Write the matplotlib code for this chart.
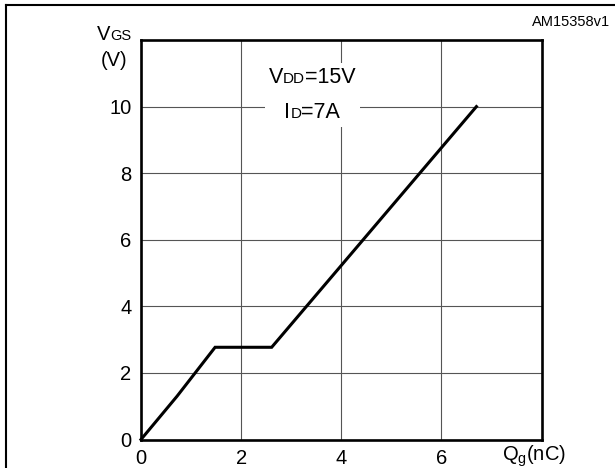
import matplotlib
matplotlib.use("Agg")
import matplotlib.pyplot as plt
from matplotlib.lines import Line2D
from matplotlib.offsetbox import TextArea, HPacker, VPacker, AnnotationBbox

FONT = "Liberation Sans"
plt.rcParams['font.family'] = [FONT, 'DejaVu Sans']

# gate charge curve
qg = [0, 0.72, 1.48, 2.61, 6.7]
vgs = [0, 1.3, 2.77, 2.77, 10.0]

x_ticks = [0, 2, 4, 6]
y_ticks = [0, 2, 4, 6, 8, 10]


def small_caps(parts):
    # big letter + smaller letters sitting on the same baseline
    kids = [TextArea(t, textprops=dict(fontsize=s, family=FONT, color='black')) for t, s in parts]
    return HPacker(children=kids, align='baseline', pad=0, sep=0)


fig = plt.figure(figsize=(6.15, 4.68), dpi=100)
ax = fig.add_axes([141 / 615, 1 - 439.5 / 468, (541.5 - 141) / 615, (439.5 - 40) / 468])

ax.plot(qg, vgs, color='black', lw=2.2, zorder=4, clip_on=False, solid_joinstyle='miter')

ax.set_xlim(0, 8)
ax.set_ylim(0, 12)
ax.set_xticks(x_ticks)
ax.set_yticks(y_ticks)
ax.tick_params(length=0, labelsize=14.5)
ax.tick_params(axis='x', pad=7)
ax.tick_params(axis='y', pad=7)
ax.grid(True, color='#555555', lw=0.8)
ax.set_axisbelow(True)
for s in ax.spines.values():
    s.set_linewidth(1.9)

# axis labels
vlab = small_caps([("V", 14.5), ("GS", 10.5)])
fig.add_artist(AnnotationBbox(vlab, (114, 468 - 34), xycoords='figure pixels',
                              frameon=False, box_alignment=(0.5, 0.5), pad=0))
fig.text(114 / 615, 1 - 60 / 468, "(V)", fontsize=14.5, ha='center', va='center')
fig.text(533.7 / 615, 1 - 456 / 468, r"Q$_\mathregular{g}$(nC)", fontsize=14.5, ha='center', va='center')

# conditions box
cond = VPacker(children=[small_caps([("V", 15.5), ("DD", 11), ("=15V", 15.5)]),
                         small_caps([("I", 15.5), ("D", 11), ("=7A", 15.5)])],
               align='center', pad=0, sep=10)
ab = AnnotationBbox(cond, (3.42, 10.35), xycoords='data', frameon=True,
                    box_alignment=(0.5, 0.5), pad=0.3,
                    bboxprops=dict(facecolor='white', edgecolor='none'))
ab.set_zorder(5)
ax.add_artist(ab)

fig.text(610 / 615, 1 - 22 / 468, "AM15358v1", fontsize=10.5, ha='right', va='center')

# outer frame (only left and top edges show)
fig.add_artist(Line2D([6 / 615, 6 / 615], [-0.1, 1 - 4.5 / 468], transform=fig.transFigure,
                      color='black', lw=1.5))
fig.add_artist(Line2D([6 / 615, 1.1], [1 - 4.5 / 468, 1 - 4.5 / 468], transform=fig.transFigure,
                      color='black', lw=1.5))

fig.savefig("out.png", dpi=100)
